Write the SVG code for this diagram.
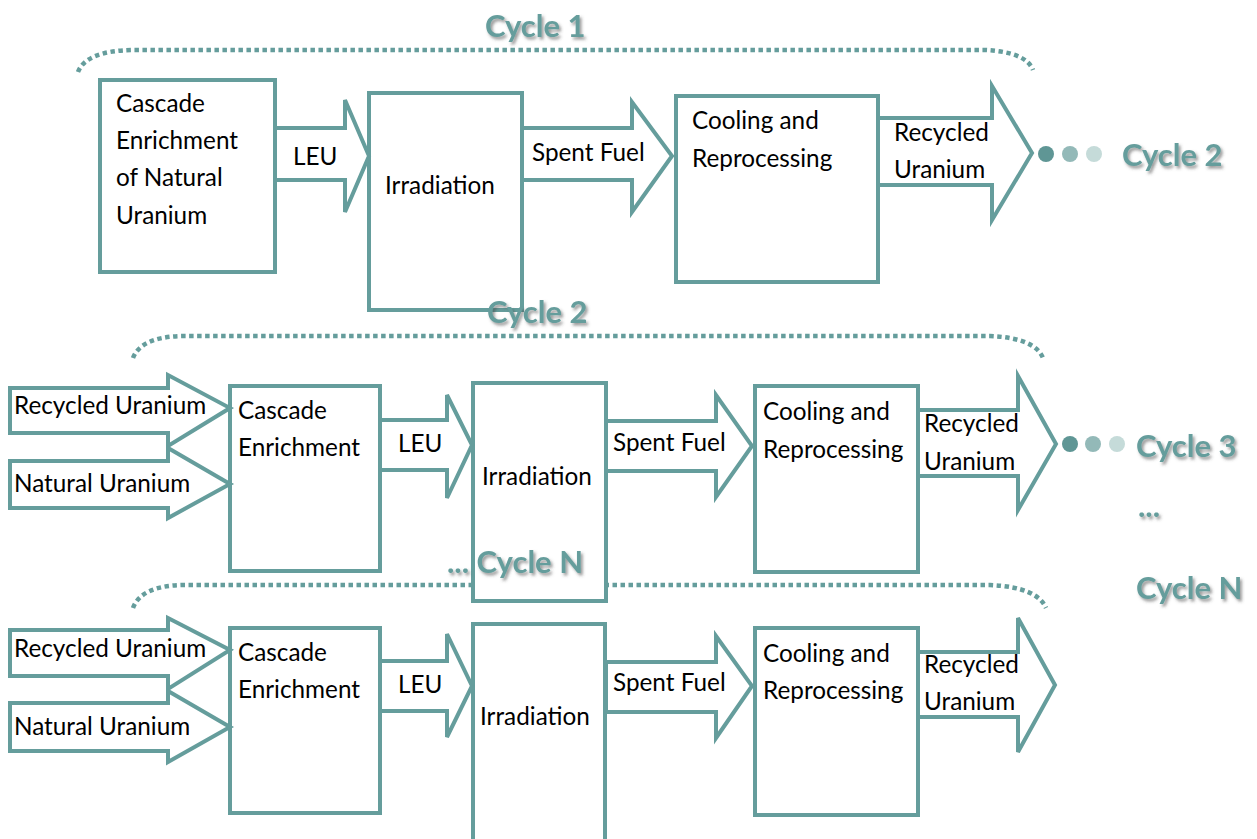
<svg xmlns="http://www.w3.org/2000/svg" width="1257" height="839" viewBox="0 0 1257 839">
<defs>
<style>
.box{fill:#fff;stroke:#659d9c;stroke-width:4}
.arr{fill:#fff;stroke:#659d9c;stroke-width:4;stroke-linejoin:miter}
.dot{fill:none;stroke:#659d9c;stroke-width:4.5;stroke-dasharray:4.5 3.5}
.t{font-family:Lato,"Liberation Sans",sans-serif;font-size:24.3px;fill:#000}
.cy{font-family:Lato,"Liberation Sans",sans-serif;font-size:31px;font-weight:bold;fill:#659d9c;filter:url(#sh)}
</style>
<filter id="sh" x="-10%" y="-20%" width="130%" height="160%">
<feDropShadow dx="2" dy="2.5" stdDeviation="1.5" flood-color="#444" flood-opacity="0.55"/>
</filter>
</defs>
<rect width="1257" height="839" fill="#fff"/>

<g id="cycle-arcs">
<path class="dot" d="M78,72 Q86,51 132,50 L985,50 Q1026,52 1033,70"/>
<path class="dot" d="M133,358 Q141,337 182,336 L990,336 Q1035,338 1043,358"/>
<path class="dot" d="M133,608 Q141,586 182,585 L990,585 Q1037,587 1046,608"/>
</g>

<g id="row1">
<g id="r1-cascade"><rect class="box" x="100" y="80" width="175" height="192"/>
<text class="t" x="116" y="112">Cascade</text><text class="t" x="116" y="149">Enrichment</text><text class="t" x="116" y="186">of Natural</text><text class="t" x="116" y="224">Uranium</text></g>
<g id="r1-irradiation"><rect class="box" x="369" y="93" width="153" height="217"/>
<text class="t" x="385" y="194">Irradiation</text></g>
<g id="r1-cooling"><rect class="box" x="676" y="96" width="202" height="186"/>
<text class="t" x="692" y="129">Cooling and</text><text class="t" x="692" y="167">Reprocessing</text></g>
</g>

<g id="row2">
<g id="r2-cascade"><rect class="box" x="230" y="386" width="150" height="185"/>
<text class="t" x="238" y="419">Cascade</text><text class="t" x="238" y="456">Enrichment</text></g>
<g id="r2-irradiation"><rect class="box" x="473" y="383" width="133" height="218"/>
<text class="t" x="482" y="485">Irradiation</text></g>
<g id="r2-cooling"><rect class="box" x="755" y="386" width="163" height="186"/>
<text class="t" x="763" y="420">Cooling and</text><text class="t" x="763" y="458">Reprocessing</text></g>
</g>

<g id="row3">
<g id="r3-cascade"><rect class="box" x="230" y="628" width="150" height="185"/>
<text class="t" x="238" y="661">Cascade</text><text class="t" x="238" y="698">Enrichment</text></g>
<g id="r3-irradiation"><rect class="box" x="473" y="624" width="132" height="225"/>
<text class="t" x="480" y="725">Irradiation</text></g>
<g id="r3-cooling"><rect class="box" x="755" y="628" width="163" height="187"/>
<text class="t" x="763" y="662">Cooling and</text><text class="t" x="763" y="699">Reprocessing</text></g>
</g>

<g id="connectors">
<polygon class="arr" points="275,128 345,128 345,100 369,156 345,212 345,180 275,180"/>
<text class="t" x="293" y="165">LEU</text>
<polygon class="arr" points="522,128 632,128 632,102 672,156 632,212 632,180 522,180"/>
<text class="t" x="532" y="161">Spent Fuel</text>
<polygon class="arr" points="878,118 992,118 992,86 1032,153 992,220 992,185 878,185"/>
<text class="t" x="894" y="141">Recycled</text><text class="t" x="894" y="178">Uranium</text>

<polygon class="arr" points="10,388 168,388 168,375 230,408 168,446 168,433 10,433"/>
<text class="t" x="14" y="414">Recycled Uranium</text>
<polygon class="arr" points="10,461 168,461 168,448 230,484 168,518 168,508 10,508"/>
<text class="t" x="14" y="492">Natural Uranium</text>
<polygon class="arr" points="380,420 447,420 447,395 472,445 447,498 447,470 380,470"/>
<text class="t" x="398" y="452">LEU</text>
<polygon class="arr" points="606,421 716,421 716,395 752,446 716,497 716,471 606,471"/>
<text class="t" x="613" y="451">Spent Fuel</text>
<polygon class="arr" points="918,410 1018,410 1018,376 1056,444 1018,510 1018,476 918,476"/>
<text class="t" x="924" y="432">Recycled</text><text class="t" x="924" y="470">Uranium</text>

<polygon class="arr" points="10,630 168,630 168,618 230,650 168,689 168,676 10,676"/>
<text class="t" x="14" y="657">Recycled Uranium</text>
<polygon class="arr" points="10,703 168,703 168,691 230,727 168,762 168,751 10,751"/>
<text class="t" x="14" y="735">Natural Uranium</text>
<polygon class="arr" points="380,661 447,661 447,634 472,686 447,737 447,711 380,711"/>
<text class="t" x="398" y="693">LEU</text>
<polygon class="arr" points="606,662 716,662 716,636 752,686 716,738 716,712 606,712"/>
<text class="t" x="613" y="691">Spent Fuel</text>
<polygon class="arr" points="918,652 1018,652 1018,618 1055,685 1018,752 1018,717 918,717"/>
<text class="t" x="924" y="673">Recycled</text><text class="t" x="924" y="710">Uranium</text>
</g>

<g id="continuation-dots">
<circle cx="1046" cy="154" r="8" fill="#5f9695"/><circle cx="1070" cy="154" r="8" fill="#93b9b8"/><circle cx="1094" cy="154" r="8" fill="#c5dbd9"/>
<circle cx="1070" cy="444" r="8" fill="#5f9695"/><circle cx="1093" cy="444" r="8" fill="#93b9b8"/><circle cx="1117" cy="444" r="8" fill="#c5dbd9"/>
</g>

<g id="cycle-labels">
<text class="cy" x="485" y="37">Cycle 1</text>
<text class="cy" x="1122" y="166">Cycle 2</text>
<text class="cy" x="487" y="323">Cycle 2</text>
<text class="cy" x="1136" y="457">Cycle 3</text>
<text class="cy" x="1138" y="517">...</text>
<text class="cy" x="1136" y="599">Cycle N</text>
<text class="cy" x="447" y="573">... Cycle N</text>
</g>
</svg>
